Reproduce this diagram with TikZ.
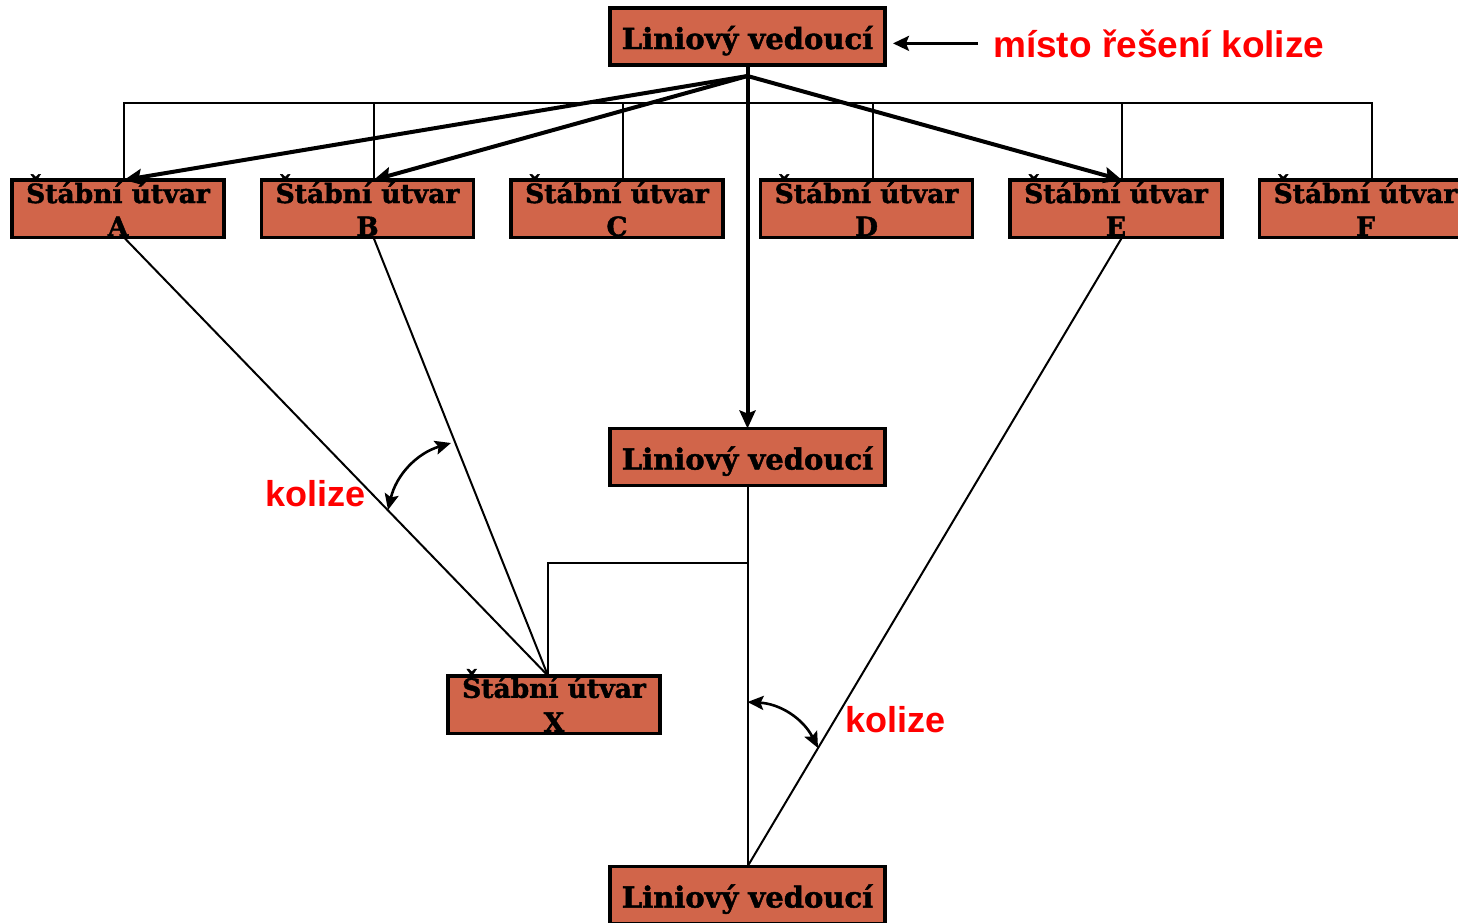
\documentclass[tikz,border=0pt]{standalone}
\usepackage{fontspec}
\setmainfont{DejaVu Serif}[BoldFeatures={FakeBold=1.6}]
\newfontfamily\notefont{Liberation Sans}
\usetikzlibrary{arrows.meta}
\definecolor{boxfill}{RGB}{209,101,74}
\definecolor{notered}{RGB}{255,0,0}
% capital S with a high caron that clears the box frame
\newcommand\HighScaron{\leavevmode\rlap{\raisebox{7.5pt}{\hbox to \fontcharwd\font`S{\hss ˇ\hss}}}S}
\begin{document}
\begin{tikzpicture}[x=1pt,y=-1pt,
  linebox/.style={draw=black, fill=boxfill, line width=3.5pt, rectangle,
    inner sep=0pt, outer sep=0pt, minimum width=275pt, minimum height=57pt,
    text height=30pt, text depth=5pt,
    font=\fontsize{29}{33}\selectfont\bfseries},
  staffbox/.style={draw=black, fill=boxfill, line width=3.5pt, rectangle,
    inner sep=0pt, outer sep=0pt, minimum width=212pt, minimum height=57.5pt},
  stafftext/.style={anchor=base, inner sep=0pt,
    font=\fontsize{26.5}{30}\selectfont\bfseries},
  wire/.style={line width=2pt, draw=black},
  heavy/.style={line width=4pt, draw=black,
    -{Stealth[length=18pt,width=16pt,inset=3pt]}},
  twoway/.style={line width=2.6pt, draw=black,
    {Stealth[length=16pt,width=14pt,inset=3pt]}-{Stealth[length=16pt,width=14pt,inset=3pt]}},
  note/.style={anchor=base west, inner sep=0pt, text=notered,
    font=\notefont\fontsize{36}{40}\selectfont\bfseries},
]
\clip (0,0) rectangle (1458,922);
\useasboundingbox (0,0) rectangle (1458,922);

% line managers
\node[linebox] (L1) at (747.5,36.5) {Liniový vedoucí};
\node[linebox] (L2) at (747.5,457) {Liniový vedoucí};
\node[linebox] (L3) at (747.5,895) {Liniový vedoucí};

% staff units
\foreach \name/\x in {A/118, B/367.5, C/617, D/866.5, E/1116, F/1365.5} {
  \node[staffbox] (\name) at (\x,208.75) {};
  \node[stafftext] (\name t1) at ([yshift=-23pt]\name.north) {\HighScaron tábní útvar};
  \node[stafftext] (\name t2) at ([yshift=-56pt]\name.north) {\name};
  \coordinate (\name n) at ([xshift=6pt]\name.north);
  \coordinate (\name s) at ([xshift=6pt]\name.south);
}
\node[staffbox] (X) at (554,704.5) {};
\node[stafftext] (Xt1) at ([yshift=-22pt]X.north) {\HighScaron tábní útvar};
\node[stafftext] (Xt2) at ([yshift=-56pt]X.north) {X};
\coordinate (Xn) at ([xshift=-6pt]X.north);

% staff bus
\coordinate (bus) at (0,103);
\draw[wire] (An) -- (An |- bus) -- (Fn |- bus) -- (Fn);
\foreach \name in {B,C,D,E} {
  \draw[wire] (\name n) -- (\name n |- bus);
}

% direct orders from the top line manager
\coordinate (hub) at (747.5,76);
\draw[heavy] (hub) -- (An);
\draw[heavy] (hub) -- (Bn);
\draw[heavy] (hub) -- (En);
\draw[heavy] (L1.south) -- (L2.north);

% lower line structure
\draw[wire] (L2.south) -- (L3.north);
\coordinate (split) at (747.5,563);
\draw[wire] (split) -| (Xn);

% staff advice crossing the line
\draw[wire] (As) -- (Xn);
\draw[wire] (Bs) -- (Xn);
\draw[wire] (Es) -- (L3.north);

% conflict markers
\coordinate (k1a) at (388,510);
\coordinate (k1b) at (451,443);
\draw[twoway] (k1a) to[bend left=30] (k1b);
\coordinate (k2a) at (747.5,702);
\coordinate (k2b) at (818,748);
\draw[twoway] (k2a) to[bend left=30] (k2b);

\node[note] (kol1) at (265,506) {kolize};
\node[note] (kol2) at (845,732) {kolize};

% where the conflict is resolved
\node[note, font=\notefont\fontsize{37}{40}\selectfont\bfseries] (resolve) at (993,57) {místo řešení kolize};
\coordinate (L1tip) at ([xshift=8pt]L1.east);
\draw[line width=2.5pt, -{Stealth[length=16pt,width=15pt,inset=3pt]}] ([xshift=-15pt]resolve.west) -- (L1tip |- resolve.west);
\end{tikzpicture}
\end{document}
